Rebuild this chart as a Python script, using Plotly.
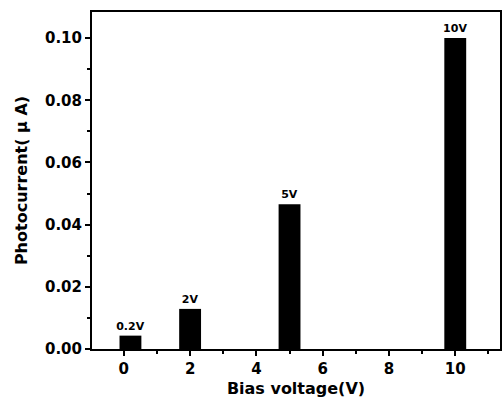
import plotly.graph_objects as go

bias_v = [0.2, 2, 5, 10]
photocurrent = [0.0043, 0.0129, 0.0466, 0.100]
labels = ["0.2V", "2V", "5V", "10V"]

FONT = "DejaVu Sans"

fig = go.Figure()
fig.add_trace(go.Bar(
    x=bias_v, y=photocurrent, width=0.66,
    marker=dict(color="black", line=dict(width=0)),
    text=labels, textposition="outside", constraintext="none",
    textfont=dict(family=FONT, size=11, color="black", weight="bold"),
    cliponaxis=False,
))

axis_common = dict(
    showline=True, linecolor="black", linewidth=2, mirror=True,
    ticks="outside", ticklen=5, tickwidth=2, tickcolor="black",
    showgrid=False, zeroline=False,
    tickfont=dict(family=FONT, size=15, color="black", weight="bold"),
)

fig.update_layout(
    width=504, height=398,
    margin=dict(l=92, r=2, t=12, b=49),
    paper_bgcolor="white", plot_bgcolor="white",
    showlegend=False,
    font=dict(family=FONT, color="black"),
    xaxis=dict(
        range=[-0.96, 11.35], tick0=0, dtick=2,
        minor=dict(dtick=1, ticks="outside", ticklen=3, tickwidth=2, tickcolor="black"),
        title=dict(text="<b>Bias voltage(V)</b>", font=dict(family=FONT, size=16, color="black"), standoff=6),
        **axis_common,
    ),
    yaxis=dict(
        range=[0, 0.1084], tick0=0, dtick=0.02, tickformat=".2f",
        minor=dict(dtick=0.01, ticks="outside", ticklen=3, tickwidth=2, tickcolor="black"),
        title=dict(text="<b>Photocurrent( μ A)</b>", font=dict(family=FONT, size=16, color="black"), standoff=13),
        **axis_common,
    ),
)

fig.write_html("out.html")
